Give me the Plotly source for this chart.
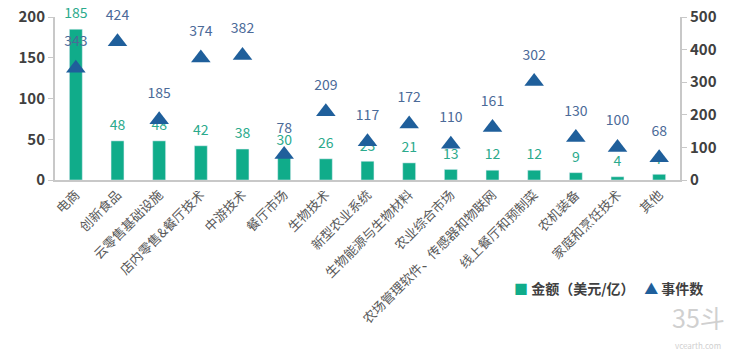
import plotly.graph_objects as go

categories = ["电商", "创新食品", "云零售基础设施", "店内零售&餐厅技术", "中游技术", "餐厅市场",
              "生物技术", "新型农业系统", "生物能源与生物材料", "农业综合市场",
              "农场管理软件、传感器和物联网", "线上餐厅和预制菜", "农机装备", "家庭和烹饪技术", "其他"]
amount = [185, 48, 48, 42, 38, 30, 26, 23, 21, 13, 12, 12, 9, 4, 7]
events = [343, 424, 185, 374, 382, 78, 209, 117, 172, 110, 161, 302, 130, 100, 68]
series_names = ["金额（美元/亿）", "事件数"]

BAR = "#10AC8A"
TRI = "#1F5F9B"
FONT = "Noto Sans CJK SC"

fig = go.Figure()
fig.add_trace(go.Bar(x=categories, y=amount, name=series_names[0], marker_color=BAR,
                     width=0.31, yaxis="y", showlegend=False))
fig.add_trace(go.Scatter(x=categories, y=events, name=series_names[1], mode="markers",
                         marker=dict(symbol="triangle-up", size=17, color=TRI), yaxis="y2",
                         showlegend=False, cliponaxis=False))
# amount labels
fig.add_trace(go.Scatter(x=categories, y=amount, mode="markers+text", text=[str(v) for v in amount],
                         textposition="top center", marker=dict(size=10, opacity=0),
                         textfont=dict(family=FONT, size=14, color="#2BAA8C"), cliponaxis=False,
                         showlegend=False, hoverinfo="skip", yaxis="y"))
# event labels
fig.add_trace(go.Scatter(x=categories, y=events, mode="markers+text", text=[str(v) for v in events],
                         textposition="top center", marker=dict(size=28, opacity=0),
                         textfont=dict(family=FONT, size=14, color="#4B6A98"), cliponaxis=False,
                         showlegend=False, hoverinfo="skip", yaxis="y2"))

fig.update_layout(
    width=734, height=359,
    margin=dict(l=55, r=54, t=17, b=179),
    plot_bgcolor="white", paper_bgcolor="white",
    font=dict(family=FONT, color="#404040"),
    showlegend=False,
    xaxis=dict(tickangle=-45, tickfont=dict(size=13, color="#595959"), automargin=False,
               range=[-0.5, len(categories) - 0.5], ticklabeloverflow="allow",
               showline=True, linecolor="#C8C8C8", linewidth=2, ticks="",
               showgrid=False),
    yaxis=dict(range=[0, 200], tickvals=[0, 50, 100, 150, 200], showgrid=False, automargin=False,
               showline=True, linecolor="#C8C8C8", linewidth=2, ticks="outside",
               ticklen=5, tickcolor="#C8C8C8", zeroline=False, ticklabeloverflow="allow",
               tickfont=dict(size=15, color="#404040", weight="bold")),
    yaxis2=dict(range=[0, 500], tickvals=[0, 100, 200, 300, 400, 500], overlaying="y",
                side="right", showgrid=False, showline=True, linecolor="#C8C8C8", automargin=False,
                linewidth=2, ticks="outside", ticklen=5, tickcolor="#C8C8C8",
                zeroline=False, ticklabeloverflow="allow",
                tickfont=dict(size=15, color="#404040", weight="bold")),
)

legend_text = (f'<span style="color:{BAR}">■</span> {series_names[0]}'
               f'   <span style="color:{TRI}">▲</span> {series_names[1]}')
fig.add_annotation(text=legend_text, xref="paper", yref="paper", x=0.731, y=-0.663,
                   xanchor="left", yanchor="middle", showarrow=False,
                   font=dict(size=14, color="#404040", family=FONT, weight="bold"))

fig.add_annotation(text="35斗", xref="paper", yref="paper", x=1.029, y=-0.84,
                   xanchor="center", yanchor="middle", showarrow=False,
                   font=dict(size=25, color="#D0D0D0", family=FONT))
fig.add_annotation(text="vcearth.com", xref="paper", yref="paper", x=1.029, y=-1.015,
                   xanchor="center", yanchor="middle", showarrow=False,
                   font=dict(size=8, color="#D0D0D0", family=FONT))

fig.write_html("out.html", config={"displayModeBar": False},
               post_script="document.body.style.margin='0';document.body.style.overflow='hidden';")
